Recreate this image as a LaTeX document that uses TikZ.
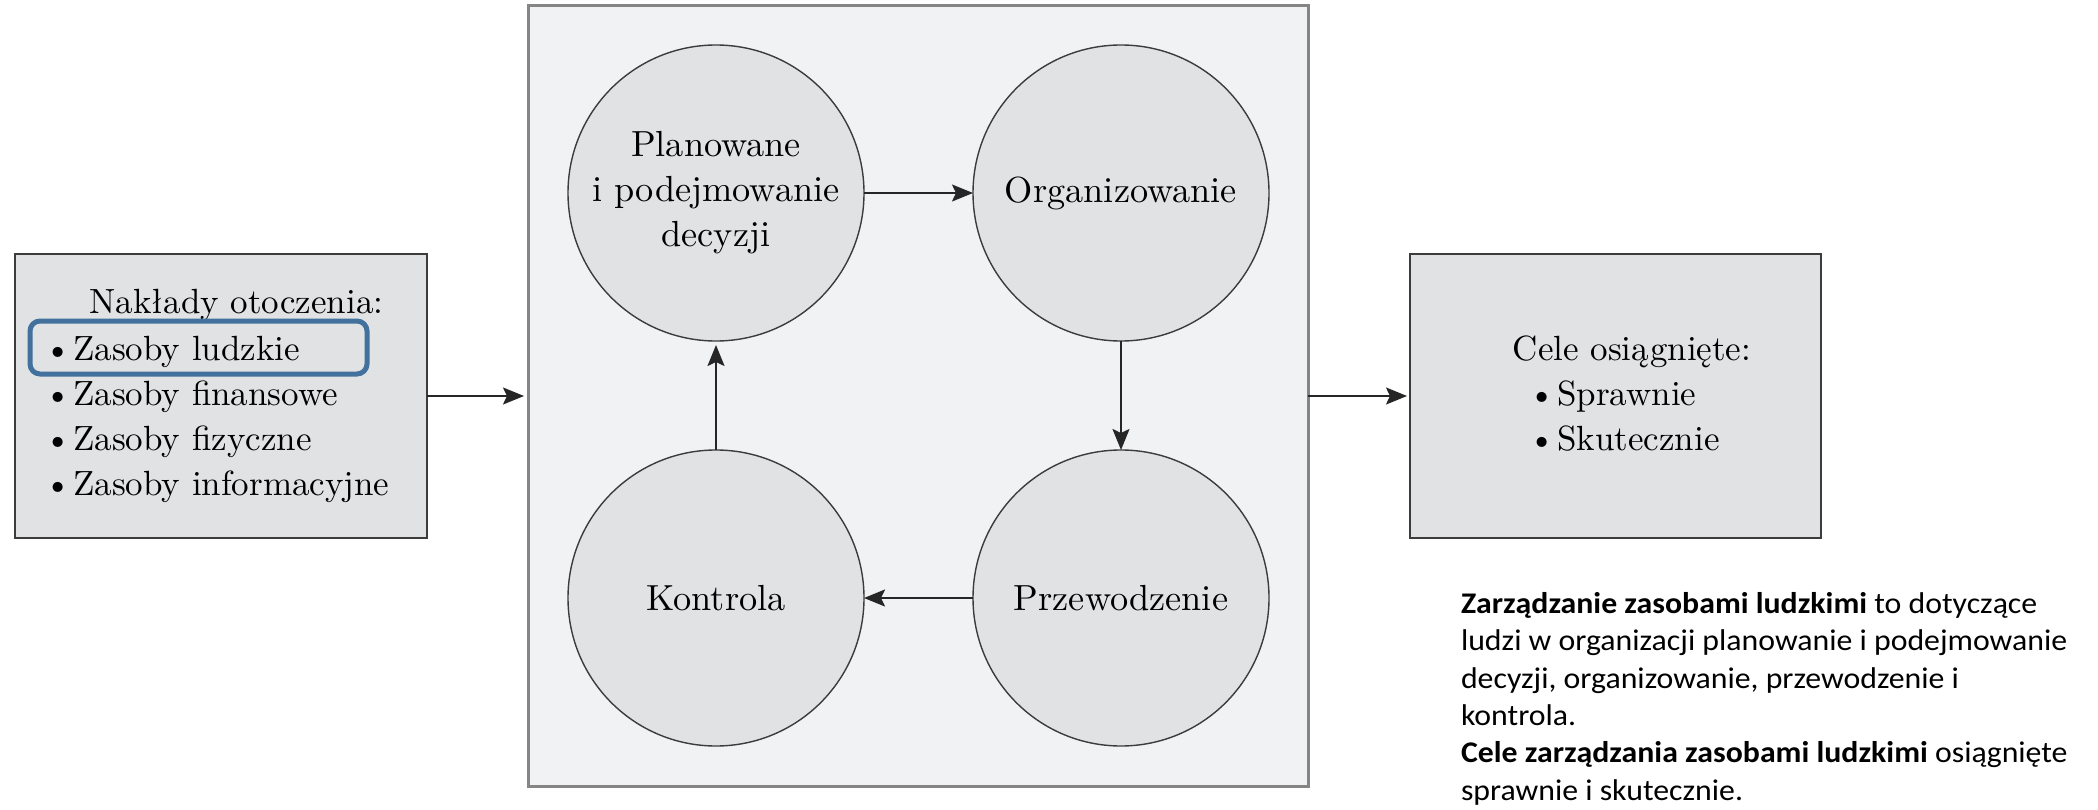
\documentclass[tikz,border=0pt]{standalone}
\usepackage{fontspec}
\setmainfont{lmroman10-regular.otf}
\newfontfamily\notefont{Carlito}[FakeStretch=1.06]
\usetikzlibrary{arrows.meta}

\definecolor{boxfill}{HTML}{E1E2E4}
\definecolor{panelfill}{HTML}{F1F2F4}
\definecolor{edge}{HTML}{3C3C3C}
\definecolor{paneledge}{HTML}{858585}
\definecolor{hlblue}{HTML}{41719C}

\newcommand{\itembullet}{\textbullet\hspace{2pt}}

\begin{document}
\begin{tikzpicture}[x=1pt,y=-1pt,
  every node/.style={inner sep=0pt, outer sep=0pt},
  sidebox/.style={draw=edge, line width=2pt, fill=boxfill,
    minimum width=412pt, minimum height=284pt},
  panel/.style={draw=paneledge, line width=3pt, fill=panelfill,
    minimum width=780pt, minimum height=780pt},
  stage/.style={circle, draw=edge, line width=1.4pt, fill=boxfill,
    minimum size=296pt, align=center, font=\fontsize{36.3}{45}\selectfont},
  boxtxt/.style={font=\fontsize{35}{45}\selectfont, anchor=base west},
  flow/.style={draw=black!85, line width=2pt,
    -{Stealth[length=21pt,width=17pt,inset=4pt]}},
  note/.style={font=\notefont\fontsize{30}{37.3}\selectfont, anchor=base west},
]
% canvas
\fill[white] (0,0) rectangle (2098,810);
\useasboundingbox (0,0) rectangle (2098,810);

% input box
\node[sidebox] (inputs) at (221,396) {};
\node[boxtxt, anchor=base] (intitle) at (236.5,313) {Nakłady otoczenia:};
\foreach \t [count=\i] in {ludzkie, finansowe, fizyczne, informacyjne}
  \node[boxtxt] (in\i) at (44,315+45*\i) {\itembullet Zasoby \t};
\node[draw=hlblue, line width=5pt, rounded corners=10pt,
  minimum width=337pt, minimum height=53pt] (hl) at (198.5,347.5) {};

% management functions panel
\node[panel] (panel) at (918,396) {};
\node[stage] (plan) at (716,193) {Planowane\\i podejmowanie\\decyzji};
\node[stage] (org)  at (1121,193) {Organizowanie};
\node[stage] (prz)  at (1121,598) {Przewodzenie};
\node[stage] (kon)  at (716,598) {Kontrola};

\draw[flow] (plan.east) -- (org.west);
\draw[flow] (org.south) -- (prz.north);
\draw[flow] (prz.west) -- (kon.east);
\draw[flow, shorten >=4pt] (kon.north) -- (plan.south);

% goals box
\node[sidebox, minimum width=411pt] (goals) at (1615.5,396) {};
\node[boxtxt, anchor=base] (gtitle) at (1632,360) {Cele osiągnięte:};
\node[boxtxt] (g1) at (1528,405) {\itembullet Sprawnie};
\node[boxtxt] (g2) at (1528,450) {\itembullet Skutecznie};

\draw[flow, shorten >=4pt] (inputs.east) -- (panel.west);
\draw[flow, shorten >=3pt] (panel.east) -- (goals.west);

% explanatory note
\node[note] (n1) at (1461,613) {\textbf{Zarządzanie zasobami ludzkimi} to dotyczące};
\node[note] (n2) at (1461,650) {ludzi w organizacji planowanie i podejmowanie};
\node[note] (n3) at (1461,688) {decyzji, organizowanie, przewodzenie i};
\node[note] (n4) at (1461,725) {kontrola.};
\node[note] (n5) at (1461,762) {\textbf{Cele zarządzania zasobami ludzkimi} osiągnięte};
\node[note] (n6) at (1461,800) {sprawnie i skutecznie.};
\end{tikzpicture}
\end{document}
